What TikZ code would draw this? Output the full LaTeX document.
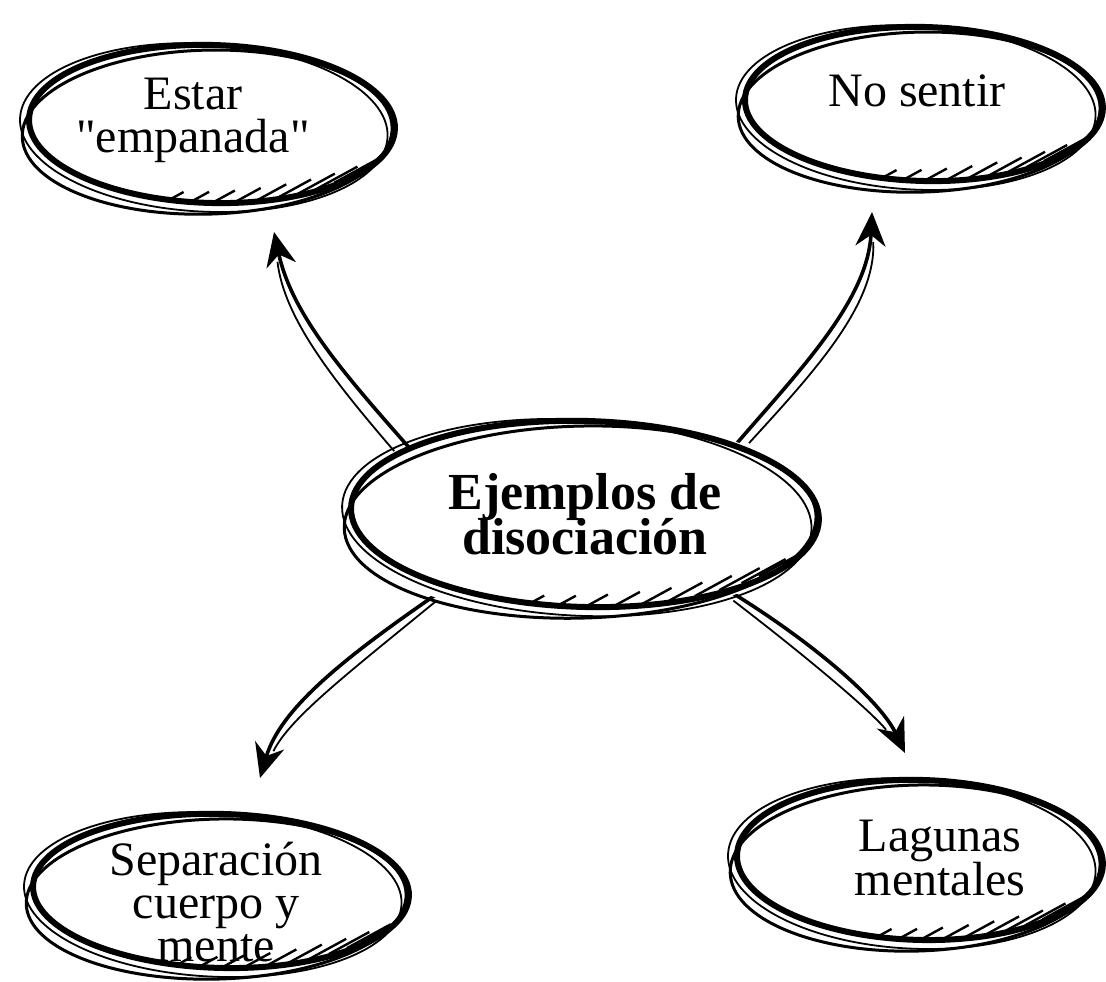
\documentclass[tikz,border=0pt]{standalone}
\usepackage{fontspec}
\setmainfont{Liberation Serif}
\newfontfamily\plainq[Ligatures=ResetAll]{Liberation Serif}
\usetikzlibrary{shapes.geometric,arrows.meta,calc}
\pgfdeclarelayer{bg}
\pgfdeclarelayer{mid}
\pgfsetlayers{bg,mid,main}
\newcommand\nolsk{\lineskiplimit-100pt\relax}
\newcommand\fntA{\fontsize{48}{43}\selectfont\nolsk}
\newcommand\fntB{\fontsize{52}{45}\selectfont\bfseries\nolsk}
\newcommand\fntC{\fontsize{48}{44}\selectfont\nolsk}
\newcommand\sq{{\plainq"}}
\tikzset{
  lbl/.style={shape=ellipse, inner sep=0pt, align=center, font=\fntA},
  arr/.style={line width=3.6pt, -{Stealth[length=34pt,width=30pt,inset=11pt]}},
  strand/.style={line width=1.8pt, shorten >=30pt},
  rim/.style={line width=6pt},
  rimb/.style={line width=3pt},
  rimc/.style={line width=1.8pt},
  hatch/.style={line width=2.4pt}
}
\newcommand\sketchell[5]{%
  \begin{pgfonlayer}{mid}
    \coordinate (#1-e) at ($(#1.center)+(#2,#3)$);
    \fill[white] ($(#1-e)+(-4,4)$) ellipse [x radius=#4+5, y radius=#5+7];
    \draw[rim, rotate around={-1.5:(#1-e)}] (#1-e) ellipse [x radius=#4, y radius=#5];
    \draw[rimb, rotate around={1.5:(#1-e)}] ($(#1-e)+(-5,8)$) ellipse [x radius=#4+2, y radius=#5+3];
    \draw[rimc, rotate around={-3:(#1-e)}] ($(#1-e)+(-8,4)$) ellipse [x radius=#4+1, y radius=#5+5];
    \begin{scope}
      \clip (#1-e) ellipse [x radius=#4+2, y radius=#5+2];
      \foreach \t/\L in {104/18,97/22,90/26,83/30,76/34,69/38,62/42,55/46,48/50,42/54}
        \draw[hatch] ($(#1-e)+({#4*cos(\t)},{#5*sin(\t)})$) -- ++({\L*0.88},{-\L*0.48});
    \end{scope}
  \end{pgfonlayer}}
\begin{document}
\begin{tikzpicture}[x=1pt,y=-1pt]
\useasboundingbox (0,0) rectangle (1106,982);
\begin{pgfonlayer}{bg}
  \fill[white] (0,0) rectangle (1106,982);
\end{pgfonlayer}

\node[lbl] (tl) at (193,120) {Estar\\\sq empanada\sq};
\node[lbl] (tr) at (917,91) {No sentir};
\node[lbl, font=\fntB, minimum width=468pt, minimum height=186pt] (c) at (585,514) {Ejemplos de\\disociación};
\node[lbl] (bl) at (216,902) {Separación\\cuerpo y\\mente};
\node[lbl, font=\fntC] (br) at (940,858) {Lagunas\\mentales};

\sketchell{tl}{19}{4}{183}{79}
\sketchell{tr}{7}{13}{179}{77}
\sketchell{c}{0}{0}{234}{93}
\sketchell{bl}{5}{-11}{188}{77}
\sketchell{br}{-20}{2}{183}{80}

\coordinate (tlEnd) at (274,232);
\coordinate (trEnd) at (872,212);
\coordinate (blEnd) at (260,778);
\coordinate (brEnd) at (905,753);

\begin{pgfonlayer}{bg}
  \draw[arr] (c.160) .. controls (345,375) and (292,315) .. (tlEnd);
  \draw[strand] ($(c.160)+(-18,0)$) .. controls (333,380) and (284,318) .. (tlEnd);
  \draw[arr] (c.25) .. controls (800,370) and (868,300) .. (trEnd);
  \draw[strand] ($(c.25)+(12,0)$) .. controls (814,372) and (876,305) .. (trEnd);
  \draw[arr] (c.208) .. controls (340,660) and (280,710) .. (blEnd);
  \draw[strand] ($(c.208)+(-8,12)$) .. controls (347,674) and (290,718) .. (blEnd);
  \draw[arr] (c.332) .. controls (810,640) and (880,700) .. (brEnd);
  \draw[strand] ($(c.332)+(8,12)$) .. controls (803,654) and (870,710) .. (brEnd);
\end{pgfonlayer}
\end{tikzpicture}
\end{document}
